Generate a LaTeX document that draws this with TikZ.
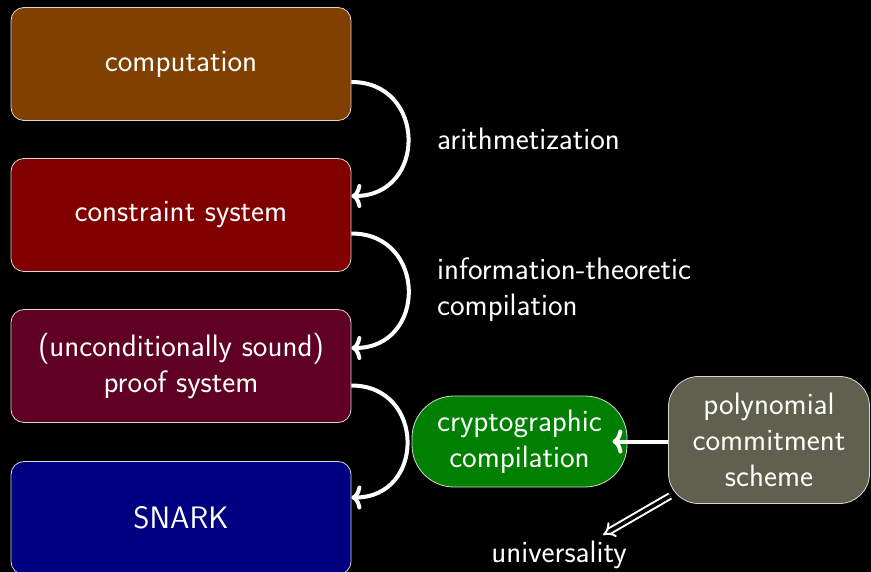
\documentclass[tikz,border=0pt]{standalone}
\usetikzlibrary{arrows.meta}
\definecolor{compcol}{RGB}{128,64,0}
\definecolor{conscol}{RGB}{128,0,0}
\definecolor{proofcol}{RGB}{96,0,34}
\definecolor{snarkcol}{RGB}{0,0,128}
\definecolor{cryptocol}{RGB}{0,128,0}
\definecolor{pcscol}{RGB}{96,96,78}
\definecolor{boxline}{RGB}{215,215,215}
\begin{document}
\begin{tikzpicture}[x=1pt,y=-1pt,
  every node/.style={text=white, font=\sffamily\fontsize{31}{36}\selectfont, inner sep=0pt},
  stage/.style={draw=boxline, line width=0.8pt, rounded corners=13pt,
    minimum width=340pt, minimum height=113pt, align=center},
  pill/.style={draw=boxline, line width=0.8pt, align=center},
  flow/.style={white, line width=4pt,
    -{Computer Modern Rightarrow[length=10pt,width=24pt]}},
  loopback/.style={out=0, in=0, looseness=1.7},
  implies/.style={white, line width=2pt, double=black, double distance=3.6pt,
    -{Implies[length=9pt,width=20pt]}}]
\fill[black] (0,0) rectangle (871,572);
\useasboundingbox (0,0) rectangle (871,572);

% main pipeline
\node[stage, fill=compcol]  (comp)  at (181,64)  {computation};
\node[stage, fill=conscol]  (cons)  at (181,215) {constraint system};
\node[stage, fill=proofcol] (proof) at (181,366) {(unconditionally sound)\\proof system};
\node[stage, fill=snarkcol] (snark) at (181,518) {SNARK};

% side components
\node[pill, fill=cryptocol, rounded corners=42pt, minimum width=215pt, minimum height=91pt]
  (crypto) at (519.5,441.5) {cryptographic\\compilation};
\node[pill, fill=pcscol, rounded corners=30pt, minimum width=201pt, minimum height=127pt]
  (pcs) at (769,440) {polynomial\\commitment\\scheme};

% step labels
\node[anchor=west] (lab1) at (437,139) {arithmetization};
\node[anchor=west, align=left] (lab2) at (437,290) {information-theoretic\\compilation};
\node (univ) at (559,555) {universality};

% transformations
\draw[flow] ([yshift=-18pt]comp.east)    to[loopback] ([yshift=19pt]cons.east);
\draw[flow] ([yshift=-18.5pt]cons.east)  to[loopback] ([yshift=18pt]proof.east);
\draw[flow] ([yshift=-19.5pt]proof.east) to[loopback] ([yshift=20.5pt]snark.east);
\draw[flow] ([yshift=-1.5pt]pcs.west) -- ([xshift=-15pt]crypto.east);
\draw[implies] ([xshift=2pt,yshift=-56pt]pcs.west) -- ([xshift=44pt,yshift=6pt]univ.north);
\end{tikzpicture}
\end{document}
